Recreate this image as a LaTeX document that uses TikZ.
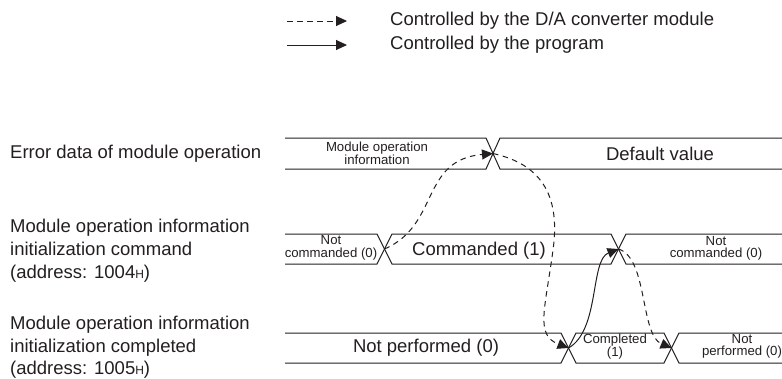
\documentclass[tikz,border=0pt]{standalone}
\usepackage{fontspec}
\setmainfont{Liberation Sans}
\usetikzlibrary{arrows.meta}
\definecolor{ink}{HTML}{231F20}
\tikzset{
  sig/.style={line width=1pt, draw=ink, line join=miter},
  ctl/.style={line width=1pt, draw=ink, -{Triangle[length=11pt,width=10pt]}},
  dactl/.style={ctl, dash pattern=on 5.5pt off 4.5pt},
  big/.style={font=\fontsize{18.5}{22.7}\selectfont, text=ink, inner sep=0pt},
  small/.style={font=\fontsize{13.2}{12.6}\selectfont, text=ink, inner sep=0pt, align=center},
}
\newcommand{\hsub}{{\fontsize{12}{12}\selectfont H}}
\begin{document}
\begin{tikzpicture}[x=1pt, y=-1pt]
	\useasboundingbox (0,0) rectangle (782,378);

	% Legend
	\coordinate (legda) at (287,21);
	\coordinate (legdb) at (347,21);
	\coordinate (legpa) at (287,45);
	\coordinate (legpb) at (347,45);
	\draw[dactl] (legda) -- (legdb);
	\draw[ctl] (legpa) -- (legpb);
	\node[big, anchor=west] (legd) at (390,21) {Controlled by the D/A converter module};
	\node[big, anchor=west] (legp) at (390,45) {Controlled by the program};

	% Signal names
	\node[big, anchor=west] (nerr) at (10,153.5) {Error data of module operation};
	\node[big, anchor=west, align=left] (ncmd) at (10,250.7) {Module operation information\\initialization command\\(address: 1004\hsub)};
	\node[big, anchor=west, align=left] (ncpl) at (10,347.5) {Module operation information\\initialization completed\\(address: 1005\hsub)};

	% Row 1: error data
	\draw[sig] (285,138) -- (486,138) -- (500,169) -- (782,169);
	\draw[sig] (285,169) -- (486,169) -- (500,138) -- (782,138);
	\coordinate (x1) at (493,153.5);
	\node[small] (info) at (377,153) {Module operation\\information};
	\node[big] (dflt) at (660,154) {Default value};

	% Row 2: initialization command
	\draw[sig] (285,234) -- (377,234) -- (392,264) -- (611,264) -- (626,234) -- (782,234);
	\draw[sig] (285,264) -- (377,264) -- (392,234) -- (611,234) -- (626,264) -- (782,264);
	\coordinate (x2) at (384.5,249);
	\coordinate (x3) at (618.5,249);
	\node[small] (ncA) at (331,248) {Not\\commanded (0)};
	\node[big] (cmd) at (479,251) {Commanded (1)};
	\node[small] (ncB) at (716,248.5) {Not\\commanded (0)};

	% Row 3: initialization completed
	\draw[sig] (285,333) -- (561,333) -- (576,363) -- (664,363) -- (679,333) -- (782,333);
	\draw[sig] (285,363) -- (561,363) -- (576,333) -- (664,333) -- (679,363) -- (782,363);
	\coordinate (x4) at (568.5,348);
	\coordinate (x5) at (671.5,348);
	\node[big] (npA) at (426,347.5) {Not performed (0)};
	\node[small] (done) at (615,346.5) {Completed\\(1)};
	\node[small] (npB) at (742,346.5) {Not\\performed (0)};

	% Handshake
	\draw[dactl] (x2) .. controls (440,225) and (420,160) .. (x1);
	\draw[dactl] (x1) .. controls (545,165) and (560,200) .. (553,250)
		.. controls (545,310) and (535,335) .. (x4);
	\draw[ctl] (x4) .. controls (600,330) and (590,260) .. (x3);
	\draw[dactl] (x3) .. controls (648,258) and (640,335) .. (x5);
\end{tikzpicture}
\end{document}
